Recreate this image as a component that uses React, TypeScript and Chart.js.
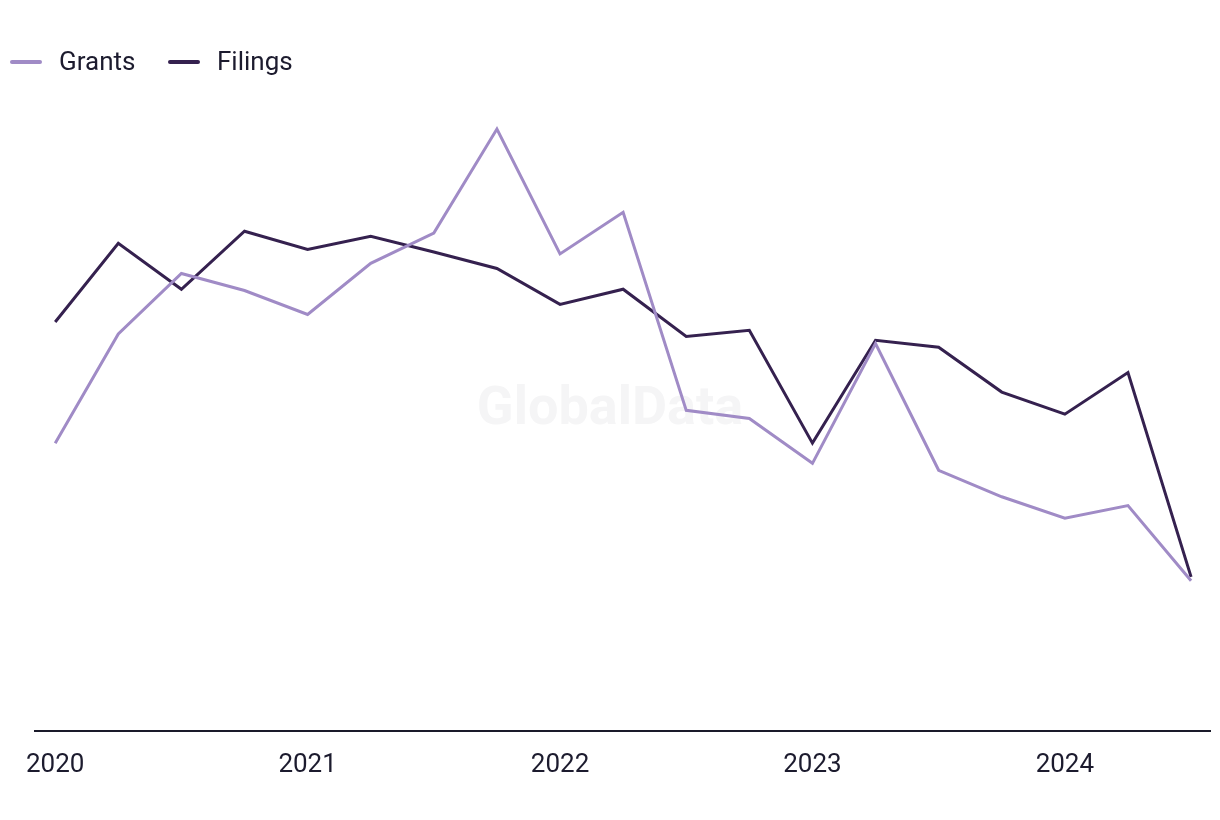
import React, { useEffect, useRef } from "react";
import { Chart, registerables } from "chart.js";

Chart.register(...registerables);

const quarters = [
  "Q1 2020", "Q2 2020", "Q3 2020", "Q4 2020",
  "Q1 2021", "Q2 2021", "Q3 2021", "Q4 2021",
  "Q1 2022", "Q2 2022", "Q3 2022", "Q4 2022",
  "Q1 2023", "Q2 2023", "Q3 2023", "Q4 2023",
  "Q1 2024", "Q2 2024", "Q3 2024",
];
const yearTickIndexes = [0, 4, 8, 12, 16];
const yearTickLabels = ["2020", "2021", "2022", "2023", "2024"];

const grants = [45.6, 62.9, 72.5, 69.8, 66.0, 74.1, 78.9, 95.4, 75.6, 82.2, 50.8, 49.5, 42.4, 61.4, 41.3, 37.1, 33.7, 35.7, 23.8];
const filings = [64.8, 77.3, 70.0, 79.2, 76.3, 78.4, 75.9, 73.3, 67.6, 70.0, 62.5, 63.5, 45.6, 61.9, 60.8, 53.7, 50.2, 56.8, 24.4];

const FONT = "Roboto, 'Noto Sans', sans-serif";
const TEXT = "#1c1b2e";

export default function App() {
  const ref = useRef<HTMLCanvasElement | null>(null);

  useEffect(() => {
    document.body.style.margin = "0";
    const canvas = ref.current;
    if (!canvas) return;

    const legendPlugin = {
      id: "customLegend",
      afterDraw(chart: any) {
        const ctx = chart.ctx;
        ctx.save();
        const items = [
          { x: 10, tx: 59 },
          { x: 168, tx: 217 },
        ];
        chart.data.datasets.forEach((ds: any, i: number) => {
          const it = items[i];
          ctx.strokeStyle = ds.borderColor;
          ctx.lineWidth = 4;
          ctx.lineCap = "round";
          ctx.beginPath();
          ctx.moveTo(it.x + 2, 62);
          ctx.lineTo(it.x + 30, 62);
          ctx.stroke();
          ctx.fillStyle = TEXT;
          ctx.font = `26px ${FONT}`;
          ctx.textBaseline = "middle";
          ctx.textAlign = "left";
          ctx.fillText(ds.label, it.tx, 63);
        });
        ctx.restore();
      },
    };

    const watermarkPlugin = {
      id: "watermark",
      beforeDatasetsDraw(chart: any) {
        const ctx = chart.ctx;
        ctx.save();
        ctx.fillStyle = "#f5f5f6";
        ctx.font = `bold 54px ${FONT}`;
        ctx.textAlign = "center";
        ctx.textBaseline = "middle";
        ctx.fillText("GlobalData", 610, 410);
        ctx.restore();
      },
    };

    const chart = new Chart(canvas, {
      type: "line",
      data: {
        datasets: [
          {
            label: "Grants",
            data: grants.map((v, i) => ({ x: i, y: v })),
            borderColor: "#a08bc6",
            backgroundColor: "#a08bc6",
            borderWidth: 3,
            pointRadius: 0,
            tension: 0,
          },
          {
            label: "Filings",
            data: filings.map((v, i) => ({ x: i, y: v })),
            borderColor: "#35214f",
            backgroundColor: "#35214f",
            borderWidth: 3,
            pointRadius: 0,
            tension: 0,
          },
        ],
      },
      options: {
        animation: false,
        responsive: false,
        maintainAspectRatio: false,
        layout: { padding: { left: 35, right: 10, top: 100, bottom: 20 } },
        plugins: {
          legend: { display: false },
          tooltip: { enabled: false },
        },
        scales: {
          x: {
            type: "linear",
            min: -0.32,
            max: 18.3,
            grid: { display: false, drawTicks: false },
            border: { display: true, color: "#1a1a2a", width: 2 },
            afterBuildTicks: (axis: any) => {
              axis.ticks = yearTickIndexes.map((v) => ({ value: v }));
            },
            ticks: {
              autoSkip: false,
              maxRotation: 0,
              padding: 19,
              color: TEXT,
              font: { family: FONT, size: 26 },
              callback: (value: any) => {
                const idx = yearTickIndexes.indexOf(Number(value));
                return idx >= 0 ? yearTickLabels[idx] : "";
              },
            },
          },
          y: {
            display: false,
            min: 0,
            max: 100,
          },
        },
      },
      plugins: [legendPlugin, watermarkPlugin],
    });

    return () => chart.destroy();
  }, []);

  return (
    <div style={{ width: 1220, height: 820 }}>
      <canvas ref={ref} width={1220} height={820} style={{ display: "block" }} />
    </div>
  );
}
